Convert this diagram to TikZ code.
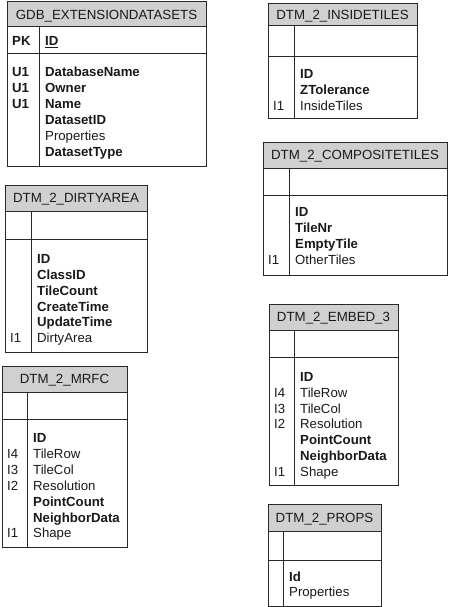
\documentclass[tikz,border=0pt]{standalone}
\usepackage{fontspec}
\setmainfont{Liberation Sans}
\definecolor{hdrgray}{RGB}{208,208,208}
\definecolor{edge}{RGB}{40,40,40}
\definecolor{ink}{RGB}{25,25,25}
\tikzset{
  hdr/.style={draw=edge, fill=hdrgray, line width=1pt},
  tbl/.style={draw=edge, line width=1pt},
  ttl/.style={anchor=base, inner sep=0pt, text=ink, font=\fontsize{13.3}{15}\selectfont},
  fld/.style={anchor=base west, inner sep=0pt, text=ink, font=\fontsize{13.2}{15}\selectfont},
}
% #1 name, #2 L, #3 R, #4 divider x, #5 top, #6 header bottom, #7 key-row bottom, #8 bottom, #9 title
\newcommand{\erbox}[9]{%
  \draw[hdr] (#2,#5) rectangle (#3,#6);
  \node[ttl] (#1-title) at ({(#2+#3)/2},{(#5+#6)/2+4.7}) {#9};
  \draw[tbl] (#2,#6) rectangle (#3,#8);
  \draw[tbl] (#2,#7) -- (#3,#7);
  \draw[tbl] (#4,#6) -- (#4,#8);
}
% #1 node name, #2 x, #3 text-centre y, #4 text
\newcommand{\fld}[4]{\node[fld] (#1) at (#2,{#3+4.7}) {#4};}
\begin{document}
\begin{tikzpicture}[x=1pt,y=-1pt]
\useasboundingbox (0,0) rectangle (448,607);

% GDB_EXTENSIONDATASETS
\erbox{gdb}{7}{206}{39}{2}{27}{54}{166}{GDB\_EXTENSIONDATASETS}
\fld{gdb-pk}{12}{41}{\textbf{PK}}
\fld{gdb-id}{45}{41}{\underline{\textbf{ID}}}
\fld{gdb-u1a}{12}{72}{\textbf{U1}}
\fld{gdb-u1b}{12}{88}{\textbf{U1}}
\fld{gdb-u1c}{12}{104}{\textbf{U1}}
\fld{gdb-f1}{45}{72}{\textbf{DatabaseName}}
\fld{gdb-f2}{45}{88}{\textbf{Owner}}
\fld{gdb-f3}{45}{104}{\textbf{Name}}
\fld{gdb-f4}{45}{120}{\textbf{DatasetID}}
\fld{gdb-f5}{45}{136}{Properties}
\fld{gdb-f6}{45}{152}{\textbf{DatasetType}}

% DTM_2_INSIDETILES
\erbox{ins}{268}{417}{294}{4}{26}{57}{119}{DTM\_2\_INSIDETILES}
\fld{ins-f1}{300}{74}{\textbf{ID}}
\fld{ins-f2}{300}{90}{\textbf{ZTolerance}}
\fld{ins-k3}{273}{106}{I1}
\fld{ins-f3}{300}{106}{InsideTiles}

% DTM_2_DIRTYAREA
\erbox{dirty}{5}{147}{31}{185}{211}{239}{352}{DTM\_2\_DIRTYAREA}
\fld{dirty-f1}{37}{259}{\textbf{ID}}
\fld{dirty-f2}{37}{275}{\textbf{ClassID}}
\fld{dirty-f3}{37}{291}{\textbf{TileCount}}
\fld{dirty-f4}{37}{307}{\textbf{CreateTime}}
\fld{dirty-f5}{37}{322}{\textbf{UpdateTime}}
\fld{dirty-k6}{10}{338}{I1}
\fld{dirty-f6}{37}{338}{DirtyArea}

% DTM_2_COMPOSITETILES
\erbox{comp}{263}{447}{289}{142}{168}{195}{275}{DTM\_2\_COMPOSITETILES}
\fld{comp-f1}{295}{212}{\textbf{ID}}
\fld{comp-f2}{295}{228}{\textbf{TileNr}}
\fld{comp-f3}{295}{244}{\textbf{EmptyTile}}
\fld{comp-k4}{268}{260}{I1}
\fld{comp-f4}{295}{260}{OtherTiles}

% DTM_2_MRFC
\erbox{mrfc}{2}{127}{27}{366}{392}{419}{547}{DTM\_2\_MRFC}
\fld{mrfc-f1}{33}{438}{\textbf{ID}}
\fld{mrfc-k2}{7}{454}{I4}
\fld{mrfc-f2}{33}{454}{TileRow}
\fld{mrfc-k3}{7}{470}{I3}
\fld{mrfc-f3}{33}{470}{TileCol}
\fld{mrfc-k4}{7}{486}{I2}
\fld{mrfc-f4}{33}{486}{Resolution}
\fld{mrfc-f5}{33}{502}{\textbf{PointCount}}
\fld{mrfc-f6}{33}{518}{\textbf{NeighborData}}
\fld{mrfc-k7}{7}{533}{I1}
\fld{mrfc-f7}{33}{533}{Shape}

% DTM_2_EMBED_3
\erbox{emb}{269}{398}{294}{304}{330}{357}{485}{DTM\_2\_EMBED\_3}
\fld{emb-f1}{300}{377}{\textbf{ID}}
\fld{emb-k2}{274}{393}{I4}
\fld{emb-f2}{300}{393}{TileRow}
\fld{emb-k3}{274}{409}{I3}
\fld{emb-f3}{300}{409}{TileCol}
\fld{emb-k4}{274}{424}{I2}
\fld{emb-f4}{300}{424}{Resolution}
\fld{emb-f5}{300}{440}{\textbf{PointCount}}
\fld{emb-f6}{300}{456}{\textbf{NeighborData}}
\fld{emb-k7}{274}{472}{I1}
\fld{emb-f7}{300}{472}{Shape}

% DTM_2_PROPS
\erbox{props}{268}{381}{283}{504}{531}{560}{606}{DTM\_2\_PROPS}
\fld{props-f1}{289}{577}{\textbf{Id}}
\fld{props-f2}{289}{592}{Properties}

\end{tikzpicture}
\end{document}
